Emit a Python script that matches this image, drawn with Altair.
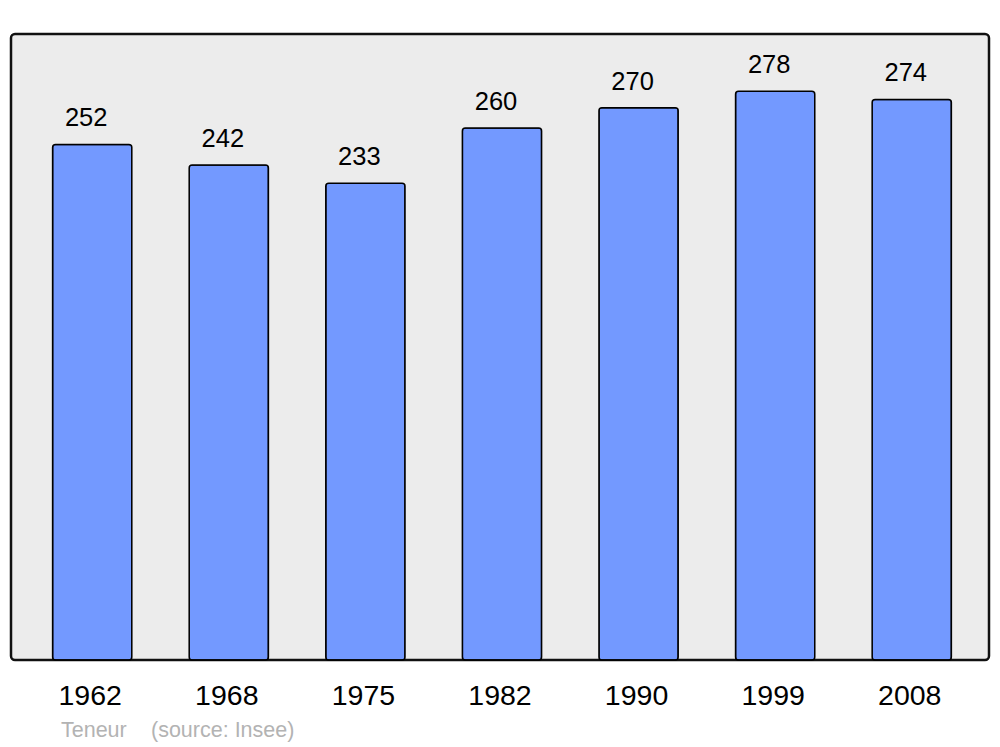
import altair as alt
import pandas as pd

years = ["1962", "1968", "1975", "1982", "1990", "1999", "2008"]
population = [252, 242, 233, 260, 270, 278, 274]
note_texts = ["Teneur", "(source: Insee)"]
note_x = [50, 140]

df = pd.DataFrame({"year": years, "pop": population})
notes = pd.DataFrame({"t": note_texts, "x": note_x})

W, H = 978, 626
FONT = "Liberation Sans"

x = alt.X("year:N", sort=years, title=None,
          scale=alt.Scale(paddingInner=0.42, paddingOuter=0.29, align=0.525),
          axis=alt.Axis(domain=False, ticks=False, labelAngle=0, labelFontSize=28.5,
                        labelFont=FONT, labelColor="black", labelPadding=21,
                        labelOffset=-2))
y = alt.Y("pop:Q", title=None, scale=alt.Scale(domain=[0, 306], nice=False, zero=True),
          axis=None)

bars = alt.Chart(df).mark_bar(color="#7399ff", stroke="black", strokeWidth=1.5,
                              cornerRadius=3).encode(x=x, y=y)
labels = alt.Chart(df).mark_text(baseline="alphabetic", dy=-18, dx=-6, fontSize=25.5,
                                 font=FONT, color="black").encode(
    x=x, y=y, text="pop:Q")
note = alt.Chart(notes).mark_text(align="left", baseline="alphabetic", fontSize=21.5,
                                  font=FONT, color="#b3b3b3").encode(
    x=alt.X("x:Q", scale=None), y=alt.value(703), text="t:N")

chart = alt.layer(bars, labels, note).properties(
    width=W, height=H,
    padding={"left": 3, "top": 26, "right": 3, "bottom": 5},
).configure(background="white").configure_view(
    stroke="#111111", strokeWidth=2.5, fill="#ececec", cornerRadius=4)

chart.save("out.html", embed_options={"renderer": "svg", "actions": False})
